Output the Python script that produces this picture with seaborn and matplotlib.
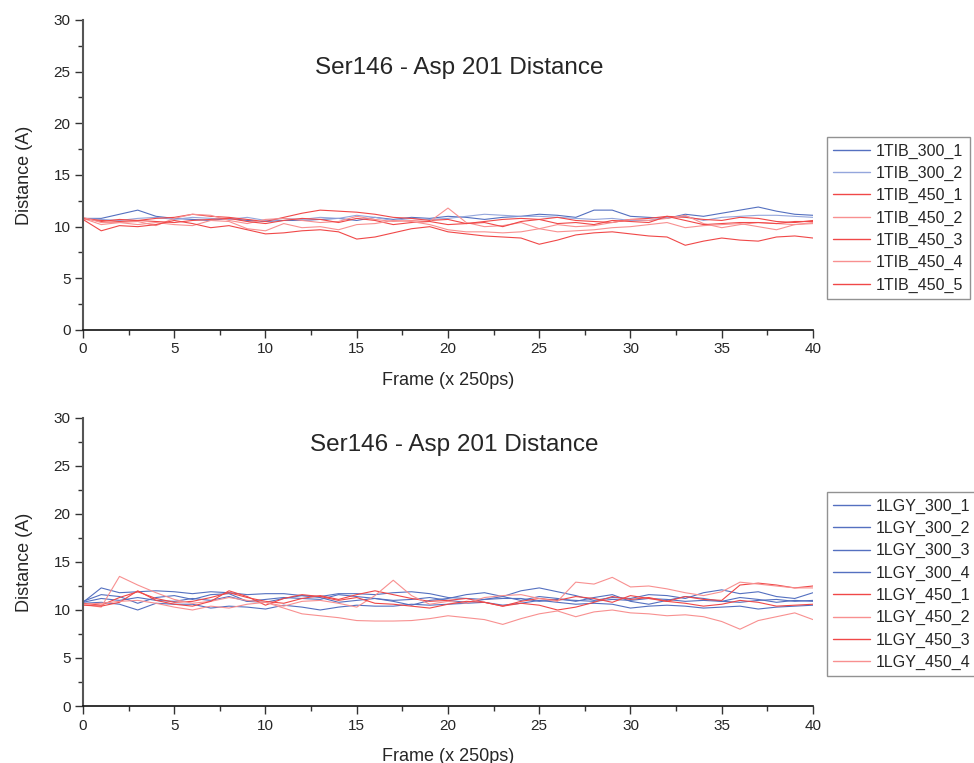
import numpy as np
import pandas as pd
import matplotlib
matplotlib.use("Agg")
import matplotlib.pyplot as plt
import seaborn as sns
from matplotlib.ticker import MultipleLocator

frames = list(range(41))

tib_names = ["1TIB_300_1", "1TIB_300_2", "1TIB_450_1", "1TIB_450_2",
             "1TIB_450_3", "1TIB_450_4", "1TIB_450_5"]
tib_300_1 = [10.8, 10.8, 11.2, 11.6, 11.0, 10.8, 10.7, 10.6, 10.8, 10.6, 10.5, 10.6, 10.6, 10.7, 10.8, 10.6, 10.9, 10.7, 10.9, 10.8, 11.0,
             10.9, 10.7, 10.9, 11.0, 11.2, 11.1, 10.9, 11.6, 11.6, 11.0, 10.9, 10.8, 11.2, 11.0, 11.3, 11.6, 11.9, 11.5, 11.2, 11.1]
tib_300_2 = [10.8, 10.7, 10.6, 10.8, 10.9, 10.7, 10.9, 10.8, 10.7, 10.9, 10.6, 10.8, 10.7, 10.9, 10.8, 11.1, 10.9, 10.6, 10.8, 10.7, 10.8,
             11.0, 11.2, 11.1, 11.0, 11.0, 10.9, 10.8, 10.7, 10.8, 10.6, 10.6, 10.9, 11.0, 10.6, 10.9, 11.0, 11.1, 11.1, 11.0, 10.9]
tib_450_1 = [10.8, 10.5, 10.7, 10.6, 10.8, 10.9, 11.2, 11.0, 10.9, 10.7, 10.5, 10.9, 11.3, 11.6, 11.5, 11.4, 11.2, 10.9, 10.8, 10.6, 10.7,
             10.3, 10.5, 10.7, 10.8, 10.7, 10.9, 10.6, 10.5, 10.4, 10.7, 10.8, 11.0, 10.9, 10.7, 10.6, 10.9, 10.8, 10.5, 10.4, 10.6]
tib_450_2 = [10.8, 10.2, 10.4, 10.5, 10.1, 10.8, 11.2, 11.1, 10.6, 10.3, 10.7, 10.8, 10.6, 10.4, 10.5, 11.0, 10.7, 10.5, 10.6, 10.5, 11.8,
             10.4, 10.0, 10.1, 10.4, 9.8, 10.2, 10.0, 10.1, 10.4, 10.7, 10.6, 10.8, 11.1, 10.3, 9.9, 10.2, 10.4, 10.3, 10.2, 10.3]
tib_450_3 = [10.8, 10.6, 10.5, 10.6, 10.5, 10.4, 10.6, 10.7, 10.8, 10.5, 10.3, 10.6, 10.8, 10.7, 10.4, 10.8, 10.6, 10.2, 10.4, 10.5, 10.2,
             10.3, 10.4, 10.0, 10.5, 10.7, 10.3, 10.4, 10.2, 10.6, 10.5, 10.4, 11.0, 10.6, 10.2, 10.3, 10.4, 10.4, 10.3, 10.5, 10.5]
tib_450_4 = [10.9, 10.4, 10.4, 10.2, 10.4, 10.2, 10.1, 10.6, 10.5, 9.8, 9.6, 10.3, 9.9, 10.0, 9.7, 10.2, 10.3, 10.6, 10.5, 10.2, 9.7,
             9.5, 9.5, 9.4, 9.5, 9.8, 9.5, 9.6, 9.7, 9.9, 10.0, 10.2, 10.4, 9.9, 10.1, 10.2, 10.3, 10.0, 9.7, 10.2, 10.4]
tib_450_5 = [10.7, 9.6, 10.1, 10.0, 10.2, 10.6, 10.3, 9.9, 10.1, 9.7, 9.3, 9.4, 9.6, 9.7, 9.5, 8.8, 9.0, 9.4, 9.8, 10.0, 9.5,
             9.3, 9.1, 9.0, 8.9, 8.3, 8.7, 9.2, 9.4, 9.5, 9.3, 9.1, 9.0, 8.2, 8.6, 8.9, 8.7, 8.6, 9.0, 9.1, 8.9]

lgy_names = ["1LGY_300_1", "1LGY_300_2", "1LGY_300_3", "1LGY_300_4",
             "1LGY_450_1", "1LGY_450_2", "1LGY_450_3", "1LGY_450_4"]
lgy_300_1 = [10.8, 12.3, 11.8, 11.9, 12.0, 11.9, 11.7, 11.9, 11.8, 11.6, 11.7, 11.7, 11.5, 11.4, 11.7, 11.7, 11.6, 11.8, 11.9, 11.7, 11.3,
             11.2, 11.1, 11.4, 12.0, 12.3, 11.9, 11.5, 11.0, 11.3, 11.2, 11.6, 11.5, 11.2, 11.8, 12.1, 11.7, 11.9, 11.4, 11.2, 11.8]
lgy_300_2 = [10.9, 11.6, 11.4, 10.7, 11.3, 11.5, 11.1, 11.6, 11.7, 10.9, 10.8, 11.2, 11.5, 11.3, 10.8, 11.0, 11.2, 10.9, 10.5, 11.0, 11.2,
             11.6, 11.8, 11.4, 11.0, 11.4, 11.2, 10.9, 11.3, 11.6, 10.9, 10.6, 11.0, 11.4, 11.2, 10.9, 11.3, 11.1, 10.8, 11.0, 10.9]
lgy_300_3 = [10.7, 10.8, 10.6, 10.0, 10.7, 10.6, 10.6, 10.2, 10.4, 10.3, 10.1, 10.5, 10.3, 10.0, 10.3, 10.5, 10.4, 10.4, 10.6, 10.5, 10.6,
             10.7, 10.8, 10.5, 10.7, 11.0, 10.8, 10.6, 10.7, 10.6, 10.2, 10.4, 10.5, 10.4, 10.2, 10.3, 10.4, 10.1, 10.3, 10.4, 10.5]
lgy_300_4 = [10.8, 11.2, 11.0, 11.3, 11.0, 10.9, 11.2, 11.0, 11.4, 10.9, 11.1, 11.3, 11.2, 11.1, 11.6, 11.4, 11.2, 11.0, 11.1, 11.3, 11.0,
             10.8, 11.1, 11.2, 11.2, 10.9, 11.1, 11.0, 10.9, 11.1, 11.0, 11.2, 11.1, 10.9, 11.0, 10.9, 10.8, 11.0, 11.1, 10.9, 11.0]
lgy_450_1 = [10.7, 10.5, 11.3, 11.9, 11.2, 10.8, 10.9, 11.3, 11.8, 11.3, 10.9, 10.7, 11.2, 11.5, 11.1, 11.6, 12.0, 11.6, 11.2, 10.9, 11.0,
             11.2, 10.8, 10.4, 10.9, 11.2, 11.0, 11.4, 11.2, 10.8, 11.5, 11.2, 10.9, 11.4, 11.1, 11.0, 12.6, 12.8, 12.6, 12.3, 12.5]
lgy_450_2 = [10.6, 10.3, 13.5, 12.6, 11.8, 11.1, 10.7, 10.9, 11.3, 11.0, 10.8, 10.4, 10.9, 11.0, 10.7, 10.3, 11.5, 13.1, 11.5, 10.6, 10.9,
             10.7, 11.3, 11.5, 11.6, 11.2, 10.9, 12.9, 12.7, 13.4, 12.4, 12.5, 12.2, 11.8, 11.5, 11.9, 12.9, 12.7, 12.5, 12.3, 12.3]
lgy_450_3 = [10.5, 10.4, 10.8, 12.0, 11.0, 10.6, 10.4, 10.9, 12.0, 11.4, 10.5, 11.2, 11.6, 11.4, 11.0, 11.3, 10.7, 10.6, 10.4, 10.2, 10.6,
             10.9, 10.8, 10.4, 10.7, 10.5, 10.0, 10.3, 10.8, 11.4, 11.1, 11.3, 10.9, 10.7, 10.4, 10.6, 11.0, 10.8, 10.4, 10.5, 10.6]
lgy_450_4 = [10.6, 10.7, 10.9, 11.0, 10.7, 10.3, 10.0, 10.4, 10.2, 10.6, 10.8, 10.2, 9.6, 9.4, 9.2, 8.9, 8.85, 8.85, 8.9, 9.1, 9.4,
             9.2, 9.0, 8.5, 9.1, 9.6, 9.9, 9.3, 9.8, 10.0, 9.7, 9.6, 9.4, 9.5, 9.3, 8.8, 8.0, 8.9, 9.3, 9.7, 9.0]

title = "Ser146 - Asp 201 Distance"
xlabel = "Frame (x 250ps)"
ylabel = "Distance (A)"

tib_series = [tib_300_1, tib_300_2, tib_450_1, tib_450_2, tib_450_3, tib_450_4, tib_450_5]
lgy_series = [lgy_300_1, lgy_300_2, lgy_300_3, lgy_300_4, lgy_450_1, lgy_450_2, lgy_450_3, lgy_450_4]

BLUE, LBLUE, RED, LRED = "#5470c0", "#94a6dc", "#f04848", "#f89090"
tib_colors = [BLUE, LBLUE, RED, LRED, RED, LRED, RED]
lgy_colors = [BLUE, BLUE, BLUE, BLUE, RED, LRED, RED, LRED]


def long_df(names, series):
    rows = []
    for n, s in zip(names, series):
        for f, v in zip(frames, s):
            rows.append((n, f, v))
    return pd.DataFrame(rows, columns=["series", "frame", "dist"])


sns.set_theme(style="ticks")
plt.rcParams["font.family"] = ["Liberation Sans", "DejaVu Sans"]

fig = plt.figure(figsize=(9.74, 7.63), dpi=100)
ax1 = fig.add_axes([0.0852, 0.5675, 0.7495, 0.4063])
ax2 = fig.add_axes([0.0852, 0.0747, 0.7495, 0.3775])


def draw(ax, names, series, colors, title_x, title_y, leg_anchor):
    df = long_df(names, series)
    pal = dict(zip(names, colors))
    sns.lineplot(data=df, x="frame", y="dist", hue="series", hue_order=names,
                 palette=pal, linewidth=0.8, ax=ax, legend=False, sort=False)
    ax.set_xlim(0, 40)
    ax.set_ylim(0, 30)
    ax.xaxis.set_major_locator(MultipleLocator(5))
    ax.xaxis.set_minor_locator(MultipleLocator(2.5))
    ax.yaxis.set_major_locator(MultipleLocator(5))
    ax.yaxis.set_minor_locator(MultipleLocator(2.5))
    ax.tick_params(which="major", direction="out", length=6, width=1, labelsize=11, color="#333333", pad=3)
    ax.tick_params(which="minor", direction="out", length=3.5, width=1, color="#333333")
    for sp in ["top", "right"]:
        ax.spines[sp].set_visible(False)
    ax.spines["left"].set_color("#555555")
    ax.spines["left"].set_linewidth(1.5)
    ax.spines["bottom"].set_color("#111111")
    ax.spines["bottom"].set_linewidth(1.2)
    ax.set_xlabel(xlabel, fontsize=13, labelpad=11)
    ax.set_ylabel(ylabel, fontsize=13, labelpad=15)
    ax.text(title_x, title_y, title, transform=ax.transAxes, ha="center", va="center", fontsize=17.5)
    handles = [plt.Line2D([], [], color=c, lw=1.0) for c in colors]
    leg = fig.legend(handles, names, loc="upper left", bbox_to_anchor=leg_anchor,
                     frameon=True, fancybox=False, fontsize=11.5, handlelength=2.3,
                     handletextpad=0.35, labelspacing=0.45, borderpad=0.4, borderaxespad=0)
    leg.get_frame().set_edgecolor("#777777")
    leg.get_frame().set_linewidth(1.0)


draw(ax1, tib_names, tib_series, tib_colors, 0.516, 0.845, (0.849, 0.8204))
draw(ax2, lgy_names, lgy_series, lgy_colors, 0.508, 0.905, (0.849, 0.355))

fig.savefig("out.png", dpi=100)
